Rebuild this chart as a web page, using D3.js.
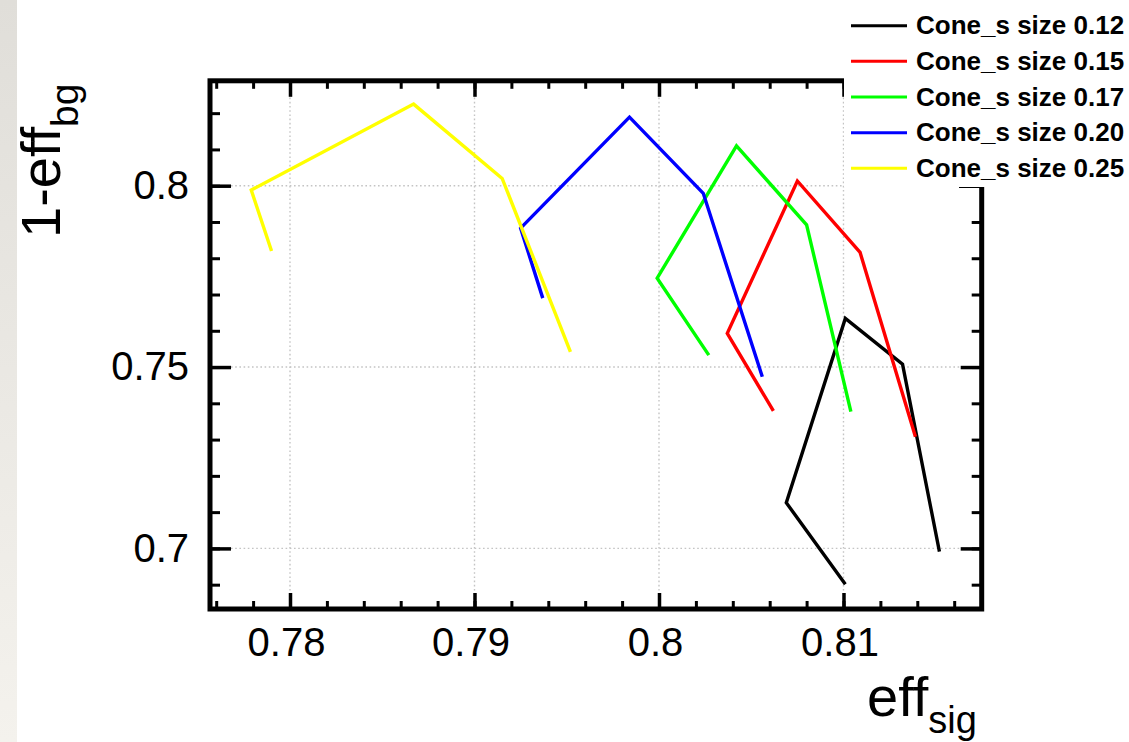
<!DOCTYPE html>
<html>
<head>
<meta charset="utf-8">
<script src="https://cdn.jsdelivr.net/npm/d3@7"></script>
<style>
  body { margin: 0; background: #fff; }
  text { font-family: "Liberation Sans", Arial, Helvetica, sans-serif; }
</style>
</head>
<body>
<div id="chart"></div>
<script>
// series data (eff_sig, 1-eff_bg)
var seriesNames = ["Cone_s size 0.12", "Cone_s size 0.15", "Cone_s size 0.17", "Cone_s size 0.20", "Cone_s size 0.25"];
var seriesColors = ["#000000", "#ff0000", "#00ff00", "#0000ff", "#ffff00"];

var effSig012 = [0.8101, 0.8069, 0.8101, 0.8132, 0.8152];
var rejBg012  = [0.6901, 0.7126, 0.7634, 0.7508, 0.6991];

var effSig015 = [0.8062, 0.8037, 0.8075, 0.8109, 0.8139];
var rejBg015  = [0.7379, 0.7593, 0.8013, 0.7816, 0.7308];

var effSig017 = [0.8027, 0.7999, 0.8042, 0.8080, 0.8104];
var rejBg017  = [0.7533, 0.7745, 0.8110, 0.7892, 0.7377];

var effSig020 = [0.7937, 0.7925, 0.7984, 0.8024, 0.8056];
var rejBg020  = [0.7690, 0.7883, 0.8189, 0.7979, 0.7473];

var effSig025 = [0.7790, 0.7779, 0.7867, 0.7915, 0.7952];
var rejBg025  = [0.7820, 0.7988, 0.8225, 0.8020, 0.7542];

// axis ticks
var xMajor = [0.78, 0.79, 0.80, 0.81];
var xTickLabels = ["0.78", "0.79", "0.8", "0.81"];
var xMinor = d3.range(0, 21).map(function(i) { return +(0.776 + i * 0.002).toFixed(3); });
var yMajor = [0.70, 0.75, 0.80];
var yTickLabels = ["0.7", "0.75", "0.8"];
var yMinor = d3.range(0, 14).map(function(i) { return +(0.69 + i * 0.01).toFixed(2); });

var svgWidth = 1129;
var svgHeight = 742;

// frame of the plot
var frame = { left: 210, right: 981.7, top: 80.8, bottom: 609 };

var svg = d3.select("#chart")
  .append("svg")
  .attr("width", svgWidth)
  .attr("height", svgHeight);

// grey strip on the left edge
var grad = svg.append("defs").append("linearGradient")
  .attr("id", "strip")
  .attr("x1", 0).attr("y1", 0).attr("x2", 0).attr("y2", 1);
grad.append("stop").attr("offset", "0%").attr("stop-color", "#e0ded9");
grad.append("stop").attr("offset", "100%").attr("stop-color", "#f4f2ed");

svg.append("rect")
  .attr("width", svgWidth).attr("height", svgHeight)
  .attr("fill", "#fff");
svg.append("rect")
  .attr("width", 17).attr("height", svgHeight)
  .attr("fill", "url(#strip)");

// scales
var xScale = d3.scaleLinear()
  .domain([0.775664, 0.817491])
  .range([frame.left, frame.right]);

var yScale = d3.scaleLinear()
  .domain([0.683292, 0.828922])
  .range([frame.bottom, frame.top]);

// dotted grid
var grid = svg.append("g").attr("class", "grid");
grid.selectAll(".vgrid")
  .data(xMajor)
  .enter()
  .append("line")
  .attr("x1", d => xScale(d)).attr("x2", d => xScale(d))
  .attr("y1", frame.top).attr("y2", frame.bottom);
grid.selectAll(".hgrid")
  .data(yMajor)
  .enter()
  .append("line")
  .attr("y1", d => yScale(d)).attr("y2", d => yScale(d))
  .attr("x1", frame.left).attr("x2", frame.right);
grid.selectAll("line")
  .attr("stroke", "#c4c4c4")
  .attr("stroke-width", 1.4)
  .attr("stroke-dasharray", "1.6,2.6");

// data lines
var allSeries = [
  [effSig012, rejBg012],
  [effSig015, rejBg015],
  [effSig017, rejBg017],
  [effSig020, rejBg020],
  [effSig025, rejBg025]
];

var line = d3.line()
  .x(d => xScale(d[0]))
  .y(d => yScale(d[1]));

svg.append("g")
  .selectAll("path")
  .data(allSeries)
  .enter()
  .append("path")
  .attr("d", s => line(d3.zip(s[0], s[1])))
  .attr("fill", "none")
  .attr("stroke", (s, i) => seriesColors[i])
  .attr("stroke-width", 3.4)
  .attr("stroke-linejoin", "miter");

// axes: ticks point inward on all four sides
function tickStyle(g, width) {
  g.select(".domain").remove();
  g.selectAll(".tick line").attr("stroke", "#000").attr("stroke-width", width);
}

svg.append("g")
  .attr("transform", `translate(0, ${frame.bottom})`)
  .call(d3.axisBottom(xScale).tickValues(xMinor).tickSize(-8).tickFormat(""))
  .call(tickStyle, 3);
svg.append("g")
  .attr("transform", `translate(0, ${frame.top})`)
  .call(d3.axisTop(xScale).tickValues(xMinor).tickSize(-8).tickFormat(""))
  .call(tickStyle, 3);
svg.append("g")
  .attr("transform", `translate(${frame.left}, 0)`)
  .call(d3.axisLeft(yScale).tickValues(yMinor).tickSize(-10).tickFormat(""))
  .call(tickStyle, 3);
svg.append("g")
  .attr("transform", `translate(${frame.right}, 0)`)
  .call(d3.axisRight(yScale).tickValues(yMinor).tickSize(-10).tickFormat(""))
  .call(tickStyle, 3);

var bottomAxis = svg.append("g")
  .attr("transform", `translate(0, ${frame.bottom})`)
  .call(d3.axisBottom(xScale).tickValues(xMajor).tickSize(-16).tickPadding(19)
    .tickFormat((d, i) => xTickLabels[i]))
  .call(tickStyle, 3.5);
bottomAxis.selectAll("text")
  .attr("font-size", 40)
  .attr("font-family", "'Liberation Sans', Arial, sans-serif")
  .attr("fill", "#000")
  .attr("dx", -4);

svg.append("g")
  .attr("transform", `translate(0, ${frame.top})`)
  .call(d3.axisTop(xScale).tickValues(xMajor).tickSize(-16).tickFormat(""))
  .call(tickStyle, 3.5);

var leftAxis = svg.append("g")
  .attr("transform", `translate(${frame.left}, 0)`)
  .call(d3.axisLeft(yScale).tickValues(yMajor).tickSize(-21).tickPadding(21)
    .tickFormat((d, i) => yTickLabels[i]))
  .call(tickStyle, 3.5);
leftAxis.selectAll("text")
  .attr("font-size", 40)
  .attr("font-family", "'Liberation Sans', Arial, sans-serif")
  .attr("fill", "#000");

svg.append("g")
  .attr("transform", `translate(${frame.right}, 0)`)
  .call(d3.axisRight(yScale).tickValues(yMajor).tickSize(-21).tickFormat(""))
  .call(tickStyle, 3.5);

// frame
svg.append("rect")
  .attr("x", frame.left).attr("y", frame.top)
  .attr("width", frame.right - frame.left)
  .attr("height", frame.bottom - frame.top)
  .attr("fill", "none")
  .attr("stroke", "#000")
  .attr("stroke-width", 5);

// legend box sits over the top-right corner of the frame
var legend = svg.append("g");
legend.append("rect")
  .attr("x", 844).attr("y", 0)
  .attr("width", svgWidth - 844).attr("height", 187)
  .attr("fill", "#fff");
legend.append("line")
  .attr("x1", 959).attr("x2", 982)
  .attr("y1", 187.5).attr("y2", 187.5)
  .attr("stroke", "#000").attr("stroke-width", 1);

var rows = legend.selectAll(".row")
  .data(seriesNames)
  .enter()
  .append("g")
  .attr("transform", (d, i) => `translate(0, ${25.7 + i * 35.65})`);
rows.append("line")
  .attr("x1", 851).attr("x2", 907)
  .attr("stroke", (d, i) => seriesColors[i])
  .attr("stroke-width", 3);
rows.append("text")
  .attr("x", 916).attr("y", 8.5)
  .attr("font-size", 26)
  .attr("font-weight", "bold")
  .text(d => d);

// axis titles
var yTitle = svg.append("text")
  .attr("transform", "translate(60, 238) rotate(-90)")
  .attr("font-size", 56);
yTitle.append("tspan").text("1-eff");
yTitle.append("tspan").attr("font-size", 39).attr("dy", 18).text("bg");

var xTitle = svg.append("text")
  .attr("x", 867).attr("y", 716)
  .attr("font-size", 56);
xTitle.append("tspan").text("eff");
xTitle.append("tspan").attr("font-size", 38).attr("dy", 17).text("sig");
</script>
</body>
</html>
